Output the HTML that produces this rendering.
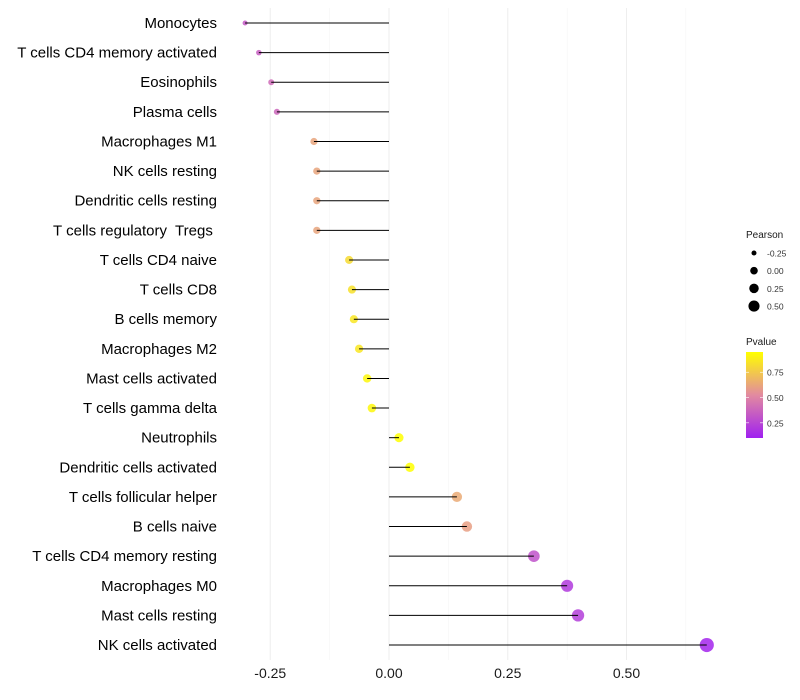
<!DOCTYPE html>
<html><head><meta charset="utf-8"><style>
body{margin:0;background:#fff}
svg{display:block;font-family:"Liberation Sans",sans-serif}
</style></head><body>
<svg id="chart" width="800" height="700"></svg>
<script>
const categories=["Monocytes","T cells CD4 memory activated","Eosinophils","Plasma cells","Macrophages M1","NK cells resting","Dendritic cells resting","T cells regulatory  Tregs ","T cells CD4 naive","T cells CD8","B cells memory","Macrophages M2","Mast cells activated","T cells gamma delta","Neutrophils","Dendritic cells activated","T cells follicular helper","B cells naive","T cells CD4 memory resting","Macrophages M0","Mast cells resting","NK cells activated"];
const pearson=[-0.303,-0.274,-0.248,-0.236,-0.158,-0.152,-0.152,-0.152,-0.084,-0.078,-0.074,-0.063,-0.046,-0.036,0.021,0.044,0.143,0.164,0.305,0.375,0.398,0.669];
const pvalue=[0.33,0.35,0.4,0.38,0.62,0.62,0.62,0.62,0.82,0.84,0.86,0.86,0.92,0.92,0.95,0.95,0.64,0.6,0.3,0.2,0.22,0.12];
const xTicks=[-0.25,0,0.25,0.5];
const xTickLabels=["-0.25","0.00","0.25","0.50"];
const sizeLegend=[-0.25,0,0.25,0.5];
const colorLegend=[0.75,0.5,0.25];

const NS="http://www.w3.org/2000/svg";
const svg=document.getElementById('chart');
function el(t,a,p){const e=document.createElementNS(NS,t);for(const k in a)e.setAttribute(k,a[k]);(p||svg).appendChild(e);return e;}
const xs=v=>389+v*475;
const ys=i=>23+i*29.62;
const rs=p=>Math.sqrt(Math.max(3,20+45*p));
const pmin=0.1,pmax=0.95;
function lerp(a,b,t){return a.map((v,i)=>Math.round(v+(b[i]-v)*t));}
function col(p){let t=(p-pmin)/(pmax-pmin);t=Math.max(0,Math.min(1,t));
 const c0=[160,32,240],c1=[226,138,160],c2=[255,255,0];
 const c=t<0.5?lerp(c0,c1,t*2):lerp(c1,c2,(t-0.5)*2);return `rgb(${c})`;}

[-0.125,0.125,0.375,0.625].forEach(v=>{const g=el('line',{x1:xs(v),x2:xs(v),y1:8,y2:660,stroke:'#f5f5f5','stroke-width':0.6});

});
xTicks.forEach((v,i)=>{const g=el('line',{x1:xs(v),x2:xs(v),y1:8,y2:660,stroke:'#eeeeee','stroke-width':1});


const t=el('text',{x:xs(v),y:678,'text-anchor':'middle','font-size':14,fill:'#1a1a1a'});t.textContent=xTickLabels[i];

});
categories.forEach((c,i)=>{const y=ys(i);
 const t=el('text',{x:217,y:y+5,'text-anchor':'end','font-size':15,fill:'#000','xml:space':'preserve'});t.textContent=c;
 t.style.whiteSpace='pre';
 
 
});
categories.forEach((c,i)=>{const y=ys(i);
 const d=el('circle',{cx:xs(pearson[i]),cy:y,r:rs(pearson[i]),fill:col(pvalue[i]),'fill-opacity':0.85});
 
 
 const l=el('line',{x1:xs(0),x2:xs(pearson[i]),y1:y,y2:y,stroke:'#000','stroke-width':1});
 
 
});
const lt=el('text',{x:746,y:238,'font-size':10,fill:'#1a1a1a'});lt.textContent='Pearson';


sizeLegend.forEach((v,i)=>{const y=253+i*17.7;
 const c=el('circle',{cx:754,cy:y,r:rs(v)*0.85,fill:'#000'});
 
 
 const t=el('text',{x:767,y:y+3.5,'font-size':8.5,fill:'#333'});t.textContent=v.toFixed(2);
 
 });
const ct=el('text',{x:746,y:345,'font-size':10,fill:'#1a1a1a'});ct.textContent='Pvalue';


const defs=el('defs',{});const gr=el('linearGradient',{id:'pg',x1:0,y1:1,x2:0,y2:0},defs);
[0,0.25,0.5,0.75,1].forEach(t=>el('stop',{offset:t,'stop-color':col(pmin+t*(pmax-pmin))},gr));
const cb=el('rect',{x:746,y:352,width:17,height:86,fill:'url(#pg)'});


const py=p=>438-(p-pmin)/(pmax-pmin)*86;
colorLegend.forEach(v=>{const y=py(v);
 el('line',{x1:746,x2:749,y1:y,y2:y,stroke:'#fff','stroke-width':0.6});el('line',{x1:760,x2:763,y1:y,y2:y,stroke:'#fff','stroke-width':0.6});
 const t=el('text',{x:767,y:y+3.5,'font-size':8.5,fill:'#333'});t.textContent=v.toFixed(2);
 
 });
</script>
</body></html>
